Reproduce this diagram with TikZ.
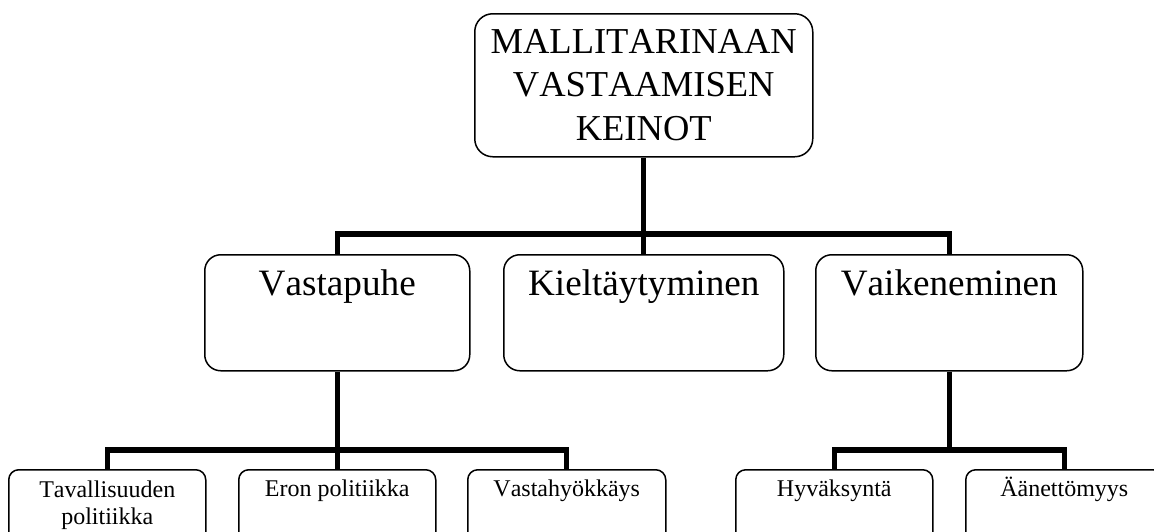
\documentclass[tikz,border=0pt]{standalone}
\usepackage{fontspec}
\setmainfont{Liberation Serif}[Kerning=Off]
\begin{document}
\begin{tikzpicture}[x=1pt,y=-1pt,
  box/.style={draw=black,line width=1.5pt,inner sep=0pt,anchor=north west,fill=white},
  topbox/.style={box,rounded corners=18pt,minimum width=338pt,minimum height=143pt},
  midbox/.style={box,rounded corners=16pt,minimum height=116pt},
  lowbox/.style={box,rounded corners=10pt,minimum width=197pt,minimum height=100pt},
  toptxt/.style={inner sep=0pt,anchor=base,align=center,font=\fontsize{36.5}{43.5}\selectfont},
  midtxt/.style={inner sep=0pt,anchor=base,font=\fontsize{37.2}{43}\selectfont},
  lowtxt/.style={inner sep=0pt,anchor=base,align=center,font=\fontsize{24}{27.5}\selectfont},
  conn/.style={line width=5.2pt,line join=miter,line cap=butt}]
\useasboundingbox (0,0) rectangle (1154,531);
\clip (0,0) rectangle (1154,531);
% boxes
\node[topbox] (top) at (474,13) {};
\node[midbox,minimum width=265pt] (vp) at (204,254) {};
\node[midbox,minimum width=280pt] (kt) at (503,254) {};
\node[midbox,minimum width=267pt] (vk) at (815,254) {};
\node[lowbox] (b1) at (8,469) {};
\node[lowbox] (b2) at (238,469) {};
\node[lowbox,minimum width=198pt] (b3) at (467,469) {};
\node[lowbox] (b4) at (735,469) {};
\node[lowbox] (b5) at (965,469) {};
% texts (base = baseline of last line)
\node[toptxt] (ttop) at ([yshift=-127pt]top.north) {MALLITARINAAN\\VASTAAMISEN\\KEINOT};
\node[midtxt] (tvp) at ([yshift=-41pt]vp.north) {Vastapuhe};
\node[midtxt] (tkt) at ([yshift=-41pt]kt.north) {Kieltäytyminen};
\node[midtxt] (tvk) at ([yshift=-41pt]vk.north) {Vaikeneminen};
\node[lowtxt] (tb1) at ([yshift=-55.5pt]b1.north) {Tavallisuuden\\politiikka};
\node[lowtxt] (tb2) at ([yshift=-27.5pt]b2.north) {Eron politiikka};
\node[lowtxt] (tb3) at ([yshift=-27.5pt]b3.north) {Vastahyökkäys};
\node[lowtxt] (tb4) at ([yshift=-27.5pt]b4.north) {Hyväksyntä};
\node[lowtxt] (tb5) at ([yshift=-27.5pt]b5.north) {Äänettömyys};
% connectors
\coordinate (j1) at (top.south |- 0,234);
\coordinate (j2) at (vp.south |- 0,450);
\coordinate (j3) at (vk.south |- 0,450);
\draw[conn] (top.south) -- (kt.north);
\draw[conn] (vp.north) |- (j1) -| (vk.north);
\draw[conn] (vp.south) -- (b2.north);
\draw[conn] (b1.north) |- (j2) -| (b3.north);
\draw[conn] (vk.south) -- (j3);
\draw[conn] (b4.north) |- (j3) -| (b5.north);
\end{tikzpicture}
\end{document}
